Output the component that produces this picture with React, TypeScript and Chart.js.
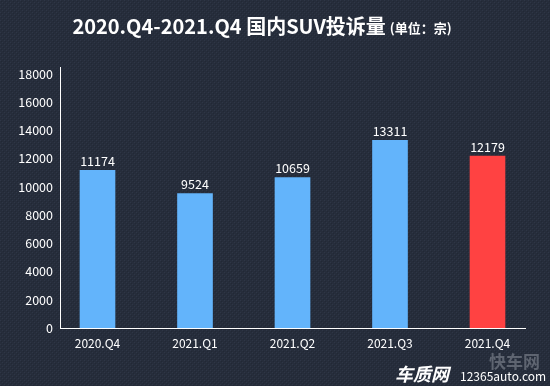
import React, { useEffect, useRef } from "react";
import { Chart, registerables } from "chart.js";

Chart.register(...registerables);

const categories = ["2020.Q4", "2021.Q1", "2021.Q2", "2021.Q3", "2021.Q4"];
const complaints = [11174, 9524, 10659, 13311, 12179];
const barColors = ["#63b4fb", "#63b4fb", "#63b4fb", "#63b4fb", "#ff4242"];
const yTicks = [0, 2000, 4000, 6000, 8000, 10000, 12000, 14000, 16000, 18000];
const titleMain = "2020.Q4-2021.Q4 国内SUV投诉量";
const titleUnit = "(单位：宗)";

const CJK = "'Noto Sans CJK SC', 'Noto Sans', sans-serif";

const bgPlugin = {
  id: "bgPattern",
  beforeDraw(chart: any) {
    const { ctx, width, height } = chart;
    ctx.save();
    const p = document.createElement("canvas");
    p.width = 4;
    p.height = 4;
    const pc = p.getContext("2d")!;
    pc.fillStyle = "#262d3b";
    pc.fillRect(0, 0, 4, 4);
    pc.fillStyle = "#2e3646";
    pc.fillRect(0, 0, 1, 1);
    pc.fillRect(2, 2, 1, 1);
    pc.fillStyle = "#212835";
    pc.fillRect(1, 1, 1, 1);
    pc.fillRect(3, 3, 1, 1);
    ctx.fillStyle = ctx.createPattern(p, "repeat");
    ctx.fillRect(0, 0, width, height);
    ctx.restore();
  },
};

const textPlugin = {
  id: "texts",
  afterDraw(chart: any) {
    const { ctx } = chart;
    ctx.save();
    ctx.fillStyle = "#ffffff";
    ctx.textBaseline = "alphabetic";
    ctx.textAlign = "left";
    ctx.font = `bold 20px ${CJK}`;
    const w1 = ctx.measureText(titleMain).width;
    ctx.font = `bold 13px ${CJK}`;
    const w2 = ctx.measureText(titleUnit).width;
    const total = w1 + 4 + w2;
    const startX = 262 - total / 2;
    ctx.font = `bold 20px ${CJK}`;
    ctx.fillText(titleMain, startX, 34);
    ctx.font = `bold 13px ${CJK}`;
    ctx.fillText(titleUnit, startX + w1 + 4, 33);

    // watermark
    ctx.font = `bold 17px ${CJK}`;
    ctx.fillStyle = "rgba(150,155,165,0.5)";
    ctx.fillText("快车网", 489, 368);
    ctx.font = `italic bold 18px ${CJK}`;
    ctx.fillStyle = "#ffffff";
    ctx.fillText("车质网", 395, 381);
    ctx.font = `12px ${CJK}`;
    ctx.fillText("12365auto.com", 460, 381);
    ctx.restore();
  },
};

const labelPlugin = {
  id: "barLabels",
  afterDatasetsDraw(chart: any) {
    const { ctx } = chart;
    const meta = chart.getDatasetMeta(0);
    ctx.save();
    ctx.fillStyle = "#ffffff";
    ctx.font = `12.5px ${CJK}`;
    ctx.textAlign = "center";
    ctx.textBaseline = "bottom";
    meta.data.forEach((el: any, i: number) => {
      ctx.fillText(String(complaints[i]), el.x, el.y - 3);
    });
    ctx.restore();
  },
};

export default function App() {
  const ref = useRef<HTMLCanvasElement>(null);
  useEffect(() => {
    const chart = new Chart(ref.current!, {
      type: "bar",
      data: {
        datasets: [
          {
            data: complaints.map((v, i) => ({ x: i, y: v })),
            backgroundColor: barColors,
            barThickness: 35,
            borderWidth: 0,
          },
        ],
      },
      options: {
        responsive: false,
        animation: false,
        events: [],
        layout: { padding: { left: 0, right: 25, top: 67, bottom: 0 } },
        plugins: { legend: { display: false }, tooltip: { enabled: false }, title: { display: false } },
        scales: {
          x: {
            type: "linear",
            offset: false,
            min: -0.3846,
            max: 4.3846,
            afterBuildTicks: (scale: any) => {
              scale.ticks = categories.map((_, i) => ({ value: i }));
            },
            afterFit: (scale: any) => {
              scale.height = 58;
            },
            grid: { display: false, drawTicks: false, offset: false },
            border: { display: true, color: "#ffffff", width: 1 },
            ticks: {
              padding: 8,
              color: "#ffffff",
              font: { family: CJK, size: 12 },
              callback: (v: any) => categories[v] ?? "",
              maxRotation: 0,
              autoSkip: false,
            },
          },
          y: {
            min: 0,
            max: 18500,
            afterBuildTicks: (scale: any) => {
              scale.ticks = yTicks.map((v) => ({ value: v }));
            },
            afterFit: (scale: any) => {
              scale.width = 60;
            },
            grid: { display: false, drawTicks: false },
            border: { display: true, color: "#ffffff", width: 1 },
            ticks: {
              padding: 7,
              color: "#ffffff",
              font: { family: CJK, size: 12.5 },
              callback: (v: any) => String(v),
            },
          },
        },
      },
      plugins: [bgPlugin, labelPlugin, textPlugin],
    } as any);
    return () => chart.destroy();
  }, []);
  return (
    <div style={{ position: "fixed", left: 0, top: 0, width: 550, height: 386 }}>
      <canvas ref={ref} width={550} height={386} style={{ display: "block" }} />
    </div>
  );
}
